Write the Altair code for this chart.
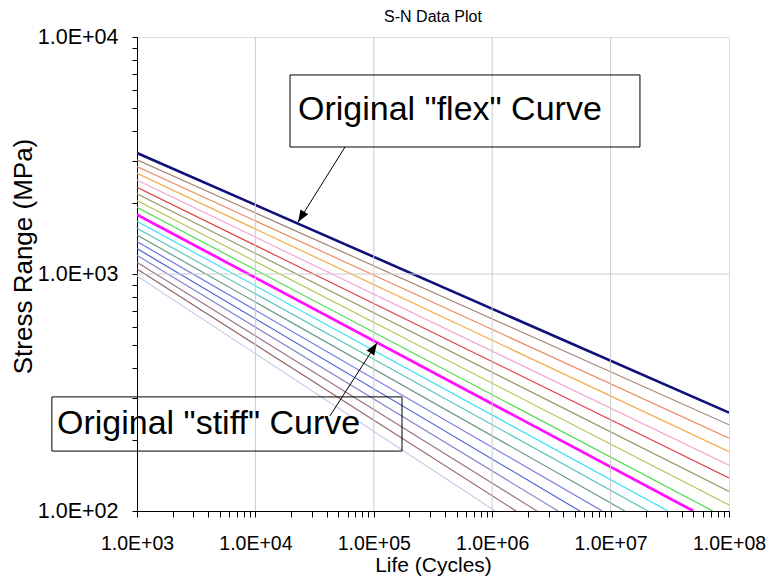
import altair as alt
import pandas as pd

# ---------------- data ----------------
title_text = "S-N Data Plot"
x_title = "Life (Cycles)"
y_title = "Stress Range (MPa)"

# every curve starts at N = 1.0E+03
start_life = 1.0e3
start_stress = [3240, 3030, 2840, 2660, 2490, 2320, 2180, 2040, 1910, 1780,
                1670, 1560, 1460, 1370, 1280, 1200, 1120, 1050, 980]
# end of each curve: right edge (N = 1E8) or where it leaves the plot (S = 100)
end_life = [1e8, 1e8, 1e8, 1e8, 1e8, 1e8, 1e8, 1e8, 7.3e7, 5.0e7,
            3.05e7, 2.07e7, 1.32e7, 8.5e6, 5.5e6, 3.6e6, 2.39e6, 1.59e6, 1.06e6]
end_stress = [260, 231, 203, 178, 156, 138, 121, 106, 100, 100,
              100, 100, 100, 100, 100, 100, 100, 100, 100]
colors = ["#10107a", "#a48474", "#ee8c66", "#f4a94a", "#f3a8d2", "#e0424c",
          "#9e9868", "#b6c85a", "#4fdc4f", "#ff10ff", "#3ee0f2", "#5cc4bc",
          "#6a9a84", "#7474e4", "#4a62d0", "#8a86c8", "#a07896", "#946866",
          "#ccccea"]
widths = [2.6, 1.2, 1.2, 1.2, 1.2, 1.2, 1.2, 1.2, 1.2, 2.8,
          1.2, 1.2, 1.2, 1.2, 1.2, 1.2, 1.2, 1.2, 1.2]

x_major = [1e3, 1e4, 1e5, 1e6, 1e7, 1e8]
x_major_labels = ["1.0E+03", "1.0E+04", "1.0E+05", "1.0E+06", "1.0E+07", "1.0E+08"]
y_major = [1e2, 1e3, 1e4]
y_major_labels = ["1.0E+02", "1.0E+03", "1.0E+04"]

# annotation boxes (data coordinates)
box_text = ['Original "flex" Curve', 'Original "stiff" Curve']
box_n1 = [1.96e4, 191]
box_n2 = [1.77e7, 1.73e5]
box_s1 = [6916, 303]
box_s2 = [3435, 179]
text_n = [2.29e4, 211]
text_s = [4920, 233]
arrow_n1 = [5.715e4, 4.266e4]
arrow_s1 = [3435, 252]
arrow_n2 = [2.29e4, 1.064e5]
arrow_s2 = [1656, 512]
arrow_angle = [212, 33]

# ---------------- tables ----------------
rows = []
for i in range(len(start_stress)):
    rows.append({"id": i, "N": start_life, "S": start_stress[i], "c": colors[i], "w": widths[i], "o": 0})
    rows.append({"id": i, "N": end_life[i], "S": end_stress[i], "c": colors[i], "w": widths[i], "o": 1})
lines_df = pd.DataFrame(rows)

x_ticks = [m * d for d in x_major[:-1] for m in range(1, 10)] + [x_major[-1]]
y_ticks = [m * d for d in y_major[:-1] for m in range(1, 10)] + [y_major[-1]]


def label_expr(vals, labs):
    e = "''"
    for v, l in reversed(list(zip(vals, labs))):
        e = f"datum.value == {int(v)} ? '{l}' : ({e})"
    return e


FONT = "Liberation Sans"
sx = alt.Scale(type="log", domain=[1e3, 1e8], nice=False)
sy = alt.Scale(type="log", domain=[1e2, 1e4], nice=False)

x_axis = alt.Axis(values=x_ticks, labelExpr=label_expr(x_major, x_major_labels),
                  labelOverlap=False, labelFlush=False, grid=False,
                  domainColor="#000000", tickColor="#000000", tickSize=6,
                  labelFontSize=19.5, labelFont=FONT, labelColor="#000000", labelPadding=17,
                  title=x_title, titleFont=FONT, titleFontSize=21, titleFontWeight="normal",
                  titleColor="#000000", titlePadding=2)
y_axis = alt.Axis(values=y_ticks, labelExpr=label_expr(y_major, y_major_labels),
                  labelOverlap=False, labelFlush=False, grid=False,
                  domainColor="#000000", tickColor="#000000", tickSize=5,
                  labelFontSize=21.5, labelFont=FONT, labelColor="#000000", labelPadding=14,
                  title=y_title, titleFont=FONT, titleFontSize=26, titleFontWeight="normal",
                  titleColor="#000000", titlePadding=1, titleY=219)


def X(field):
    return alt.X(field, scale=sx, axis=x_axis)


def Y(field):
    return alt.Y(field, scale=sy, axis=y_axis)


lines = alt.Chart(lines_df).mark_line(clip=True).encode(
    x=X("N:Q"),
    y=Y("S:Q"),
    detail="id:N",
    order="o:Q",
    color=alt.Color("c:N", scale=None),
    strokeWidth=alt.StrokeWidth("w:Q", scale=None),
)

grid_v = alt.Chart(pd.DataFrame({"N": x_major[1:-1]})).mark_rule(
    color="#cccccc", strokeWidth=1).encode(x=X("N:Q"))
grid_h = alt.Chart(pd.DataFrame({"S": y_major[1:-1]})).mark_rule(
    color="#cccccc", strokeWidth=1).encode(y=Y("S:Q"))

ann_df = pd.DataFrame({"t": box_text, "N": box_n1, "N2": box_n2, "S": box_s1, "S2": box_s2,
                       "tn": text_n, "ts": text_s})
boxes = alt.Chart(ann_df).mark_rect(fillOpacity=0, stroke="#000000", strokeWidth=1).encode(
    x=X("N:Q"), x2="N2:Q", y=Y("S:Q"), y2="S2:Q")
texts = alt.Chart(ann_df).mark_text(align="left", baseline="middle", fontSize=34,
                                    font=FONT, color="#000000").encode(
    x=X("tn:Q"), y=Y("ts:Q"), text="t:N")

arr_df = pd.DataFrame({"N": arrow_n1, "S": arrow_s1, "N2": arrow_n2, "S2": arrow_s2, "a": arrow_angle})
arrow_lines = alt.Chart(arr_df).mark_rule(color="#000000", strokeWidth=1).encode(
    x=X("N:Q"), x2="N2:Q", y=Y("S:Q"), y2="S2:Q")
arrow_heads = alt.Chart(arr_df).mark_point(
    shape="M0,0L-0.75,2L0.75,2Z", filled=True, color="#000000", opacity=1, size=144).encode(
    x=X("N2:Q"), y=Y("S2:Q"), angle=alt.Angle("a:Q", scale=None))

chart = alt.layer(lines, grid_v, grid_h, boxes, texts, arrow_lines, arrow_heads).properties(
    width=592, height=474,
    title=alt.TitleParams(title_text, font=FONT, fontSize=16, fontWeight="normal",
                          color="#000000", anchor="middle", frame="group", offset=1),
    autosize=alt.AutoSizeParams(type="none"),
    padding={"left": 129, "top": 29, "right": 37, "bottom": 66},
).configure_view(stroke="#a6a6a6", strokeWidth=1).configure(background="#ffffff")

chart.save("out.html", embed_options={"renderer": "svg", "actions": False})
